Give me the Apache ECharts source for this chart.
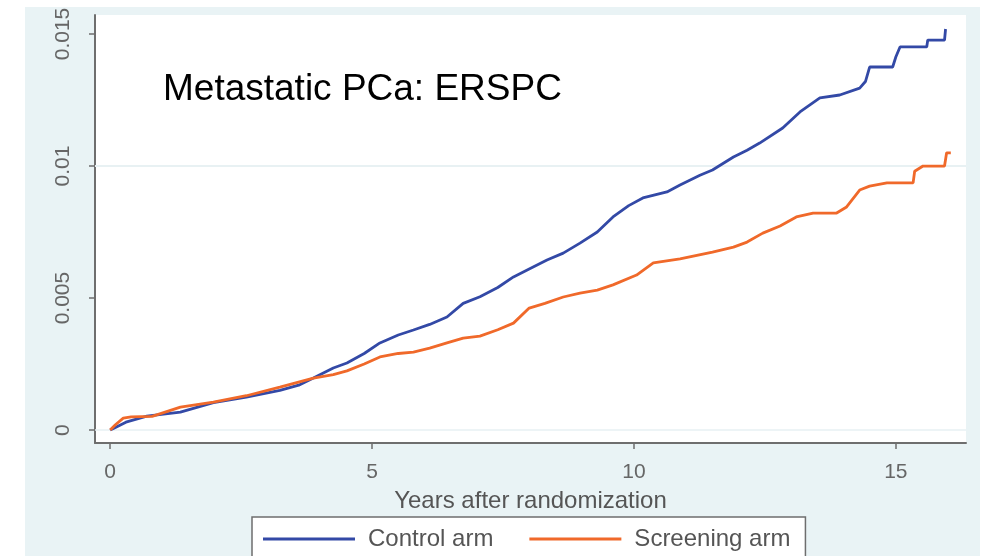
<!DOCTYPE html>
<html><head><meta charset="utf-8">
<script src="https://cdn.jsdelivr.net/npm/echarts@6/dist/echarts.min.js"></script>
<style>html,body{margin:0;padding:0;background:#fff}#c{width:989px;height:556px}</style>
</head><body><div id="c"></div>
<script>
const titleText = 'Metastatic PCa: ERSPC';
const xAxisName = 'Years after randomization';
const seriesNames = ['Control arm', 'Screening arm'];
const xTicks = [0, 5, 10, 15];
const yTicks = [0, 0.005, 0.01, 0.015];

const controlT = [0,0.1,0.3,0.7,1.34,1.97,2.6,3.24,3.6,3.88,4.26,4.52,4.85,5.15,5.5,5.79,6.1,6.43,6.74,7.06,7.4,7.7,8.0,8.34,8.65,8.97,9.3,9.6,9.9,10.17,10.63,10.88,11.26,11.5,11.9,12.16,12.4,12.84,13.17,13.55,13.93,14.31,14.42,14.5,14.94,15.0,15.08,15.59,15.61,15.93,15.95];
const controlV = [0,0.0001,0.0003,0.00053,0.00068,0.00104,0.00125,0.0015,0.0017,0.00197,0.00235,0.00254,0.0029,0.0033,0.0036,0.00379,0.004,0.00428,0.0048,0.00505,0.0054,0.0058,0.0061,0.00644,0.0067,0.00708,0.0075,0.00807,0.0085,0.00879,0.00902,0.00928,0.00965,0.00985,0.01034,0.0106,0.01087,0.01144,0.01205,0.01258,0.01269,0.01295,0.0132,0.01375,0.01375,0.01413,0.01451,0.01451,0.01477,0.01477,0.01519];

const screenT = [0,0.1,0.25,0.4,0.8,1.34,1.97,2.6,3.24,3.88,4.26,4.52,4.85,5.15,5.5,5.79,6.1,6.43,6.74,7.06,7.4,7.7,8.0,8.3,8.65,8.97,9.3,9.6,10.05,10.37,10.88,11.5,11.9,12.16,12.46,12.79,13.1,13.42,13.87,14.06,14.31,14.5,14.83,15.33,15.36,15.52,15.93,15.97,16.05];
const screenV = [0,0.0002,0.00045,0.0005,0.00052,0.00087,0.00106,0.0013,0.00163,0.00197,0.0021,0.00224,0.0025,0.00277,0.0029,0.00295,0.0031,0.0033,0.00348,0.00356,0.0038,0.00405,0.00462,0.0048,0.00504,0.00519,0.0053,0.0055,0.00587,0.00633,0.00648,0.00674,0.00693,0.00712,0.00746,0.00773,0.00807,0.00822,0.00822,0.00845,0.00909,0.00924,0.00936,0.00936,0.0098,0.01,0.01,0.0105,0.0105];

const zip = (a, b) => a.map((v, i) => [v, b[i]]);
const FONT = 'Liberation Sans, Arial, sans-serif';
const chart = echarts.init(document.getElementById('c'), null, {renderer: 'canvas'});
chart.setOption({
  animation: false,
  backgroundColor: '#ffffff',
  graphic: [
    {type: 'rect', z: -10, shape: {x: 25, y: 7, width: 955, height: 560}, style: {fill: '#e9f3f5'}},
    {type: 'text', z: 10, x: 163, y: 90, style: {text: titleText, font: '37px ' + FONT, fill: '#000', textVerticalAlign: 'middle'}}
  ],
  grid: {left: 95, right: 23, top: 15, bottom: 113, show: true, backgroundColor: '#ffffff', borderWidth: 0},
  xAxis: {
    type: 'value', min: -0.29, max: 16.34,
    name: xAxisName, nameLocation: 'middle', nameGap: 46,
    nameTextStyle: {fontFamily: FONT, fontSize: 24, color: '#555'},
    axisLine: {show: true, onZero: false, lineStyle: {color: '#6e6e6e', width: 2}},
    axisTick: {show: true, length: 6, customValues: xTicks, lineStyle: {color: '#6e6e6e', width: 1.5}},
    axisLabel: {customValues: xTicks, margin: 19, fontFamily: FONT, fontSize: 21, color: '#666'},
    splitLine: {show: false}
  },
  yAxis: {
    type: 'value', min: -0.00049, max: 0.01572,
    axisLine: {show: true, onZero: false, lineStyle: {color: '#6e6e6e', width: 2}},
    axisTick: {show: true, length: 6, customValues: yTicks, lineStyle: {color: '#6e6e6e', width: 1.5}},
    axisLabel: {customValues: yTicks, rotate: 90, margin: 21, fontFamily: FONT, fontSize: 21, color: '#666',
      formatter: v => String(v)},
    splitLine: {show: false}
  },
  legend: {
    left: 252, top: 517,
    data: seriesNames,
    icon: 'rect', itemWidth: 92, itemHeight: 3, itemGap: 36,
    backgroundColor: '#ffffff', borderColor: '#6e6e6e', borderWidth: 1.5, borderRadius: 0,
    padding: [10, 15, 10, 11],
    textStyle: {fontFamily: FONT, fontSize: 24, color: '#555', padding: [0, 0, 0, 8]}
  },
  series: [
    {
      name: 'grid', type: 'line', data: [], silent: true, z: 1,
      markLine: {silent: true, symbol: 'none', label: {show: false}, z: 1,
        lineStyle: {color: '#e7f1f3', width: 1.5, type: 'solid'},
        data: yTicks.map(v => ({yAxis: v}))}
    },
    {
      name: seriesNames[0], type: 'line', symbol: 'none', data: zip(controlT, controlV),
      lineStyle: {color: '#3349a6', width: 2.8}, itemStyle: {color: '#3349a6'}, z: 3
    },
    {
      name: seriesNames[1], type: 'line', symbol: 'none', data: zip(screenT, screenV),
      lineStyle: {color: '#f0692a', width: 2.8}, itemStyle: {color: '#f0692a'}, z: 4
    }
  ]
});
</script></body></html>
